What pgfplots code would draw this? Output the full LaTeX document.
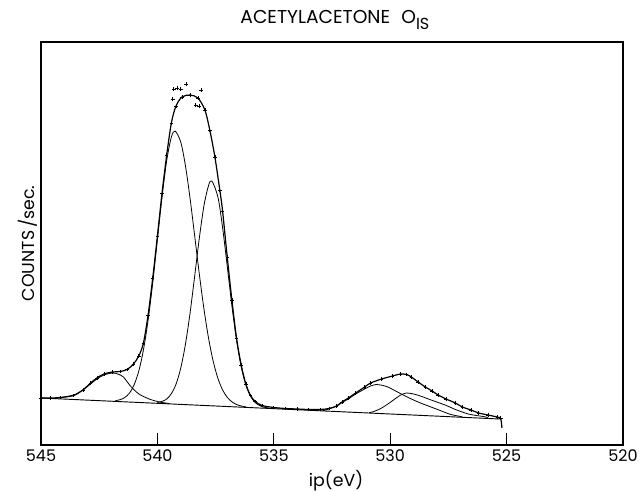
\documentclass[border=0pt]{standalone}
\usepackage{fontspec}
\setmainfont{Poppins}
\usepackage{pgfplots}
\usepackage{pgfplotstable}
\pgfplotsset{compat=1.18}

\pgfplotstableread{
E v
545.0 55
544.6 55
544.15 55.5
543.6 57.5
543.2 63
542.87 70
542.6 75
542.3 79
541.93 81
541.6 81.5
541.3 83.5
541.03 89
540.8 97
540.6 110
540.4 138
540.2 175
540.0 217
539.8 260
539.6 298
539.4 330
539.2 347
538.94 356
538.6 358
538.26 355
537.96 343
537.75 323
537.53 296
537.32 263
537.2 242
537.0 196
536.8 153
536.6 115
536.4 88
536.2 69
536.0 57.5
535.8 51.5
535.5 47.5
535.0 45.5
534.5 44.5
534.0 44
533.5 43.5
533.0 43.5
532.63 44.5
532.3 47
532.07 51
531.8 55
531.48 60
531.1 66
530.84 70
530.37 74
529.9 77
529.56 79
529.3 78.5
529.09 76
528.8 71
528.49 66
528.2 62
527.94 58
527.6 54
527.2 50
526.9 46
526.53 43
526.2 40
525.8 38
525.4 36
525.25 35
}\envelope

\pgfplotstableread{
E v
539.30 364
539.15 365
539.00 364
538.77 369
538.13 363
539.35 354
538.35 348
538.20 347
}\outliers

\begin{document}
\begin{tikzpicture}
\useasboundingbox (-30.75pt,-34.5pt) rectangle (450pt,333.75pt);
\begin{axis}[
  at={(0,0)}, anchor=south west,
  scale only axis, width=436.5pt, height=302.25pt,
  x dir=reverse, xmin=520, xmax=545, ymin=8, ymax=411,
  xtick={520,525,530,535,540,545}, xtick pos=left, tick align=inside,
  major tick length=9pt,
  ytick=\empty,
  axis line style={line width=0.9pt},
  every tick/.style={black, line width=0.6pt},
  /pgf/number format/assume math mode=true,
  /pgf/number format/1000 sep={},
  tick label style={font=\fontsize{12}{14}\selectfont},
  title={ACETYLACETONE\hspace{0.6em}O\raisebox{-5pt}{\fontsize{12}{12}\selectfont IS}},
  title style={font=\fontsize{14}{16}\selectfont, at={(axis description cs:0.505,1.027)}, anchor=base},
  xlabel={ip(eV)},
  xlabel style={font=\fontsize{13}{15}\selectfont, at={(axis description cs:0.507,-0.088)}, anchor=center},
  ylabel={COUNTS\,/sec.},
  ylabel style={font=\fontsize{13}{15}\selectfont, at={(axis description cs:-0.0223,0.5)}, anchor=center},
]
% baseline
\addplot[black, line width=0.7pt] coordinates {(545,55) (525.3,34)};
% small peak near 542
\addplot[black, line width=0.6pt, smooth] coordinates {
(544.4,54.6)(544.15,55.5)(543.6,58)(543.2,63)(542.87,69)(542.6,74)(542.3,78)(541.93,80)(541.7,79)(541.46,76)(541.16,67)(540.9,61)(540.73,58)(540.5,55.5)(540.3,53.5)(540.0,51.5)(539.8,50.5)(539.5,49.5)};
% component 1
\addplot[black, line width=0.6pt, smooth] coordinates {
(541.8,52.4)(541.6,53.3)(541.4,55.5)(541.2,59.9)(541.0,68.1)(540.8,81.9)(540.6,103.0)(540.4,132.7)(540.2,170.2)(540.0,213.1)(539.8,256.0)(539.6,292.5)(539.4,315.9)(539.24,321.9)(539.0,311.2)(538.8,287.9)(538.6,255.2)(538.4,217.4)(538.2,179.1)(538.0,144.0)(537.8,114.5)(537.6,91.4)(537.4,74.6)(537.2,63.1)(537.0,55.7)(536.8,51.2)(536.6,48.5)(536.4,47.0)(536.2,46.1)};
% component 2
\addplot[black, line width=0.6pt, smooth] coordinates {
(540.0,50.5)(539.8,51.6)(539.6,54.0)(539.4,59.3)(539.2,68.8)(539.0,84.6)(538.8,108.1)(538.6,139.4)(538.4,176.6)(538.2,214.7)(538.0,247.3)(537.8,267.7)(537.66,272.0)(537.4,255.9)(537.2,225.5)(537.0,186.9)(536.8,147.3)(536.6,112.7)(536.4,86.2)(536.2,68.0)(536.0,56.8)(535.8,50.5)(535.6,47.3)(535.4,45.7)(535.2,44.9)};
% component 3
\addplot[black, line width=0.6pt, smooth] coordinates {
(532.9,42.2)(532.63,44)(532.3,47)(532.07,50.5)(531.8,54)(531.48,59)(531.1,64)(530.84,67)(530.6,68.5)(530.4,68)(530.1,66)(529.77,62)(529.4,57.5)(529.09,54)(528.7,50)(528.36,47)(527.8,42)(527.4,38.5)(527.2,37.5)(526.9,36.2)};
% component 4
\addplot[black, line width=0.6pt, smooth] coordinates {
(530.9,40.3)(530.7,41.5)(530.4,44.5)(530.1,49)(529.8,54)(529.55,58)(529.3,60)(529.0,59)(528.7,57)(528.36,54)(528.0,51)(527.64,48)(527.2,43.5)(526.9,41)(526.65,39)(526.3,37.5)(526.0,36.5)(525.8,35.5)};
% envelope
\addplot[black, line width=0.9pt, smooth] table[x=E, y=v] {\envelope};
\addplot[black, line width=0.9pt] coordinates {(525.25,35)(525.22,30)(525.2,25)};
% data points
\addplot[black, only marks, mark=+, mark size=1.3pt, mark options={line width=0.5pt}] table[x=E, y=v] {\envelope};
\addplot[black, only marks, mark=+, mark size=1.5pt, mark options={line width=0.6pt}] table[x=E, y=v] {\outliers};
\end{axis}
\end{tikzpicture}
\end{document}
